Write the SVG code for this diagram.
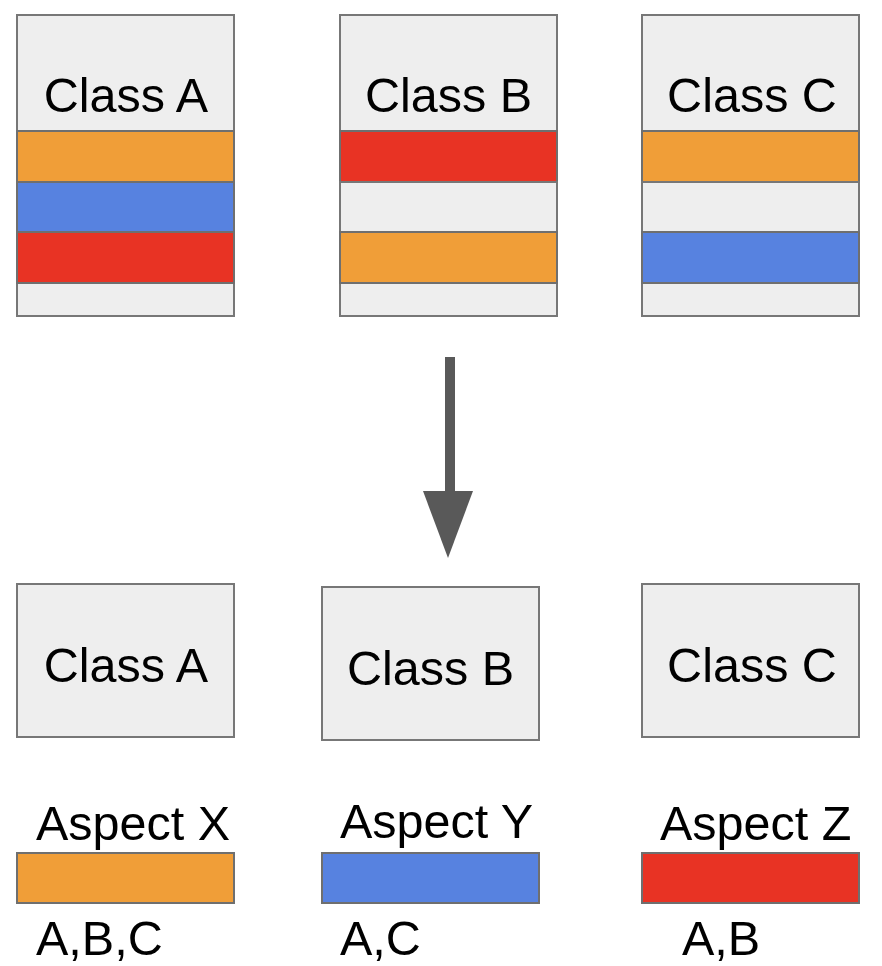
<svg xmlns="http://www.w3.org/2000/svg" width="882" height="966" viewBox="0 0 882 966">
<style>
.box{fill:#eeeeee;stroke:#777777;stroke-width:2}
.o{fill:#f09e38;stroke:#6f6f6f;stroke-width:2}
.b{fill:#5782e0;stroke:#6f6f6f;stroke-width:2}
.r{fill:#e83324;stroke:#6f6f6f;stroke-width:2}
text{font-family:"Liberation Sans",Arial,sans-serif;font-size:48.5px;fill:#000}
.c{text-anchor:middle}
</style>
<rect width="882" height="966" fill="#ffffff"/>
<g id="top-class-a">
<rect class="box" x="17" y="15" width="217" height="301"/>
<text class="c" x="126" y="112">Class A</text>
<rect class="o" x="17" y="131" width="217" height="51"/>
<rect class="b" x="17" y="182" width="217" height="50"/>
<rect class="r" x="17" y="232" width="217" height="51"/>
</g>
<g id="top-class-b">
<rect class="box" x="340" y="15" width="217" height="301"/>
<text class="c" x="448.5" y="112">Class B</text>
<rect class="r" x="340" y="131" width="217" height="51"/>
<rect class="box" x="340" y="182" width="217" height="50"/>
<rect class="o" x="340" y="232" width="217" height="51"/>
</g>
<g id="top-class-c">
<rect class="box" x="642" y="15" width="217" height="301"/>
<text class="c" x="752" y="112">Class C</text>
<rect class="o" x="642" y="131" width="217" height="51"/>
<rect class="box" x="642" y="182" width="217" height="50"/>
<rect class="b" x="642" y="232" width="217" height="51"/>
</g>
<g id="connectors">
<rect x="445" y="357" width="10" height="136" fill="#595959"/>
<polygon points="423,491 473,491 448,558" fill="#595959"/>
</g>
<g id="bottom-class-a">
<rect class="box" x="17" y="584" width="217" height="153"/>
<text class="c" x="126" y="682">Class A</text>
</g>
<g id="bottom-class-b">
<rect class="box" x="322" y="587" width="217" height="153"/>
<text class="c" x="430.5" y="685">Class B</text>
</g>
<g id="bottom-class-c">
<rect class="box" x="642" y="584" width="217" height="153"/>
<text class="c" x="752" y="682">Class C</text>
</g>
<g id="aspect-x">
<text x="36" y="840">Aspect X</text>
<rect class="o" x="17" y="853" width="217" height="50"/>
<text x="36" y="955">A,B,C</text>
</g>
<g id="aspect-y">
<text x="340" y="838">Aspect Y</text>
<rect class="b" x="322" y="853" width="217" height="50"/>
<text x="340" y="955">A,C</text>
</g>
<g id="aspect-z">
<text x="660" y="840">Aspect Z</text>
<rect class="r" x="642" y="853" width="217" height="50"/>
<text x="682" y="955">A,B</text>
</g>
</svg>
